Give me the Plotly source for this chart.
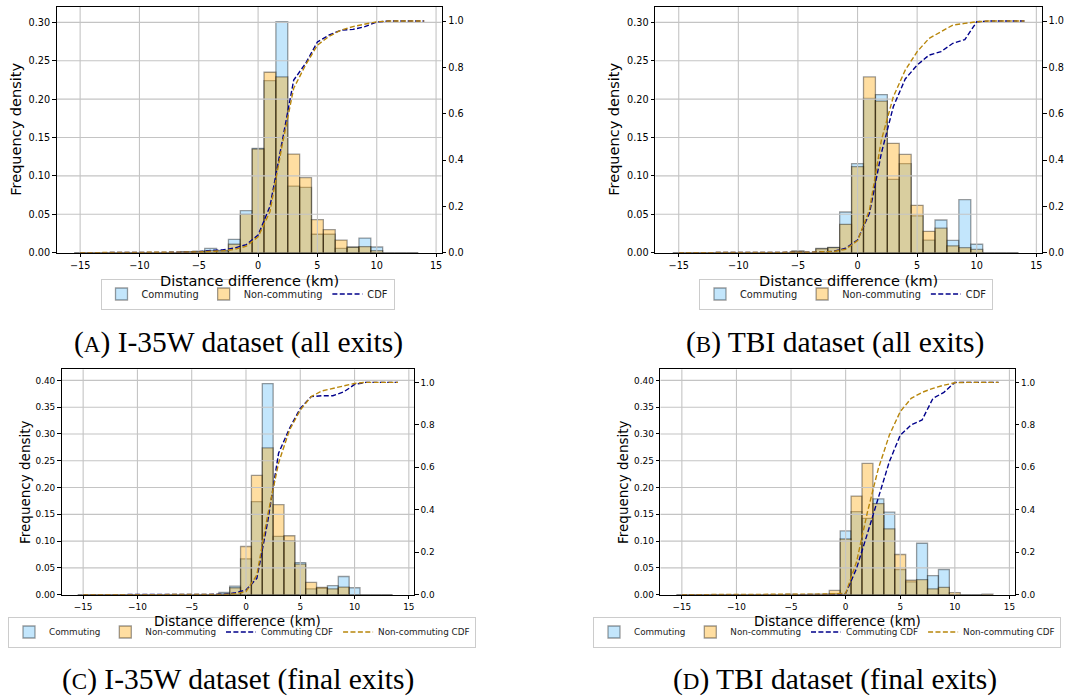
import plotly.graph_objects as go

# ---------------- data ----------------
bin_centers = list(range(-15, 14))        # histogram bins (1 km wide), -15 .. 13
cdf_x = list(range(-15, 15))              # CDF evaluation points, -15 .. 14

# Panel A: I-35W (all exits)
A_comm = [0, 0, 0, 0, 0, 0, 0, 0, 0, 0.001, 0.002, 0.0056, 0.003, 0.0174, 0.0547, 0.136, 0.224, 0.301,
          0.0868, 0.085, 0.024, 0.024, 0.0056, 0.0074, 0.019, 0.0074, 0, 0, 0]
A_non = [0, 0, 0, 0, 0, 0, 0, 0, 0, 0.001, 0.0015, 0.0026, 0.002, 0.011, 0.050, 0.135, 0.235, 0.229,
         0.1285, 0.0977, 0.043, 0.030, 0.0165, 0.007, 0.008, 0.0026, 0, 0, 0]
A_cdf_comm = [0, 0, 0, 0, 0, 0, 0, 0, 0, 0.002, 0.004, 0.01, 0.012, 0.02, 0.035, 0.076, 0.2, 0.47, 0.745,
              0.817, 0.91, 0.94, 0.961, 0.964, 0.976, 0.996, 1, 1, 1, 1]
A_cdf_non = [0, 0, 0, 0, 0, 0, 0, 0, 0.001, 0.002, 0.003, 0.006, 0.008, 0.014, 0.028, 0.069, 0.177, 0.457,
             0.71, 0.81, 0.896, 0.935, 0.961, 0.976, 0.987, 0.997, 1, 1, 1, 1]

# Panel B: TBI (all exits)
B_comm = [0, 0, 0, 0, 0, 0, 0, 0, 0, 0, 0.002, 0, 0.0056, 0.007, 0.053, 0.116, 0.201, 0.206,
          0.0955, 0.116, 0.048, 0.0165, 0.0426, 0.016, 0.069, 0.011, 0, 0, 0]
B_non = [0, 0, 0, 0, 0, 0, 0, 0, 0, 0, 0.002, 0, 0.005, 0.0065, 0.037, 0.112, 0.229, 0.1975,
         0.1424, 0.128, 0.0617, 0.0278, 0.032, 0.009, 0.0065, 0.0043, 0, 0, 0]
B_cdf_comm = [0, 0, 0, 0, 0, 0, 0, 0, 0, 0, 0.002, 0.002, 0.004, 0.006, 0.019, 0.055, 0.17, 0.43, 0.63,
              0.75, 0.81, 0.853, 0.868, 0.904, 0.92, 0.997, 1, 1, 1, 1]
B_cdf_non = [0, 0, 0, 0, 0, 0, 0, 0, 0, 0, 0.002, 0.002, 0.004, 0.005, 0.015, 0.052, 0.184, 0.486, 0.673,
             0.788, 0.868, 0.925, 0.954, 0.983, 0.99, 0.997, 1, 1, 1, 1]

# Panel C: I-35W (final exits)
C_comm = [0, 0, 0, 0, 0, 0, 0, 0, 0, 0, 0, 0, 0, 0.0044, 0.016, 0.067, 0.1736, 0.394,
          0.109, 0.101, 0.060, 0.011, 0.012, 0.0168, 0.034, 0.013, 0, 0, 0]
C_non = [0, 0, 0, 0, 0, 0, 0, 0, 0, 0, 0, 0, 0, 0.0015, 0.013, 0.090, 0.2227, 0.274,
         0.168, 0.110, 0.057, 0.023, 0.0137, 0.011, 0.0143, 0, 0, 0, 0]
C_cdf_comm = [0, 0, 0, 0, 0, 0, 0, 0, 0, 0, 0, 0, 0, 0.002, 0.009, 0.022, 0.077, 0.344, 0.666,
              0.783, 0.878, 0.933, 0.937, 0.937, 0.955, 0.99, 1, 1, 1, 1]
C_cdf_non = [0, 0, 0, 0, 0, 0, 0, 0, 0, 0, 0, 0, 0, 0.001, 0.005, 0.014, 0.093, 0.375, 0.62,
             0.775, 0.87, 0.933, 0.96, 0.972, 0.984, 0.995, 1, 1, 1, 1]

# Panel D: TBI (final exits)
D_comm = [0, 0, 0, 0, 0, 0, 0, 0, 0, 0, 0, 0, 0, 0, 0.002, 0.119, 0.155, 0.1425,
          0.179, 0.154, 0.047, 0.024, 0.096, 0.0355, 0.047, 0, 0, 0, 0]
D_non = [0, 0, 0, 0, 0, 0, 0, 0, 0, 0, 0.001, 0, 0.001, 0.001, 0.008, 0.104, 0.184, 0.245,
         0.170, 0.123, 0.075, 0.027, 0.028, 0.011, 0.0137, 0.004, 0, 0, 0.001]
D_cdf_comm = [0, 0, 0, 0, 0, 0, 0, 0, 0, 0, 0, 0, 0, 0, 0, 0.005, 0.124, 0.289, 0.454,
              0.626, 0.751, 0.8, 0.823, 0.925, 0.953, 1.0, 1, 1, 1, 1]
D_cdf_non = [0, 0, 0, 0, 0, 0, 0, 0, 0, 0, 0.001, 0.001, 0.002, 0.003, 0.004, 0.006, 0.155, 0.39, 0.595,
             0.751, 0.862, 0.925, 0.953, 0.972, 0.987, 0.998, 1, 1, 1, 1]

x_ticks = [-15, -10, -5, 0, 5, 10, 15]
x_ticktext = ["\u221215", "\u221210", "\u22125", "0", "5", "10", "15"]
y_ticks_top = [0, 0.05, 0.10, 0.15, 0.20, 0.25, 0.30]
y_ticks_bottom = [0, 0.05, 0.10, 0.15, 0.20, 0.25, 0.30, 0.35, 0.40]
y2_ticks = [0, 0.2, 0.4, 0.6, 0.8, 1.0]

captions = ["A", "B", "C", "D"]
caption_text = ["I-35W dataset (all exits)", "TBI dataset (all exits)",
                "I-35W dataset (final exits)", "TBI dataset (final exits)"]

# ---------------- layout helpers ----------------
W, H = 1065, 696
def px(x):
    return x / W
def py(y):
    return 1 - y / H

FONT = "DejaVu Sans"
SERIF = "Liberation Serif"
COMM_FILL = "rgba(135,206,250,0.5)"
NON_FILL = "rgba(255,165,0,0.37)"
EDGE = "rgba(0,0,0,0.38)"
BLUE = "#00008B"
GOLD = "#B8860B"
GRID = "#c4c4c4"
X_RANGE = [-16.975, 15.475]

panels = [
    dict(box=(56.7, 441.7, 6.7, 252.7), yr=[0, 0.3204], y2r=[0, 1.062], yt=y_ticks_top,
         comm=A_comm, non=A_non, cc=A_cdf_comm, cn=A_cdf_non, four=False,
         tick_fs=9.7, title_fs=14.5, leg_fs=9.8,
         ytitle_x=16, xtitle_y=281, leg_x=247.5, leg_anchor="center", leg_y=294,
         cap_x=238, cap_y=342),
    dict(box=(655.2, 1042.0, 6.7, 252.7), yr=[0, 0.3204], y2r=[0, 1.062], yt=y_ticks_top,
         comm=B_comm, non=B_non, cc=B_cdf_comm, cn=B_cdf_non, four=False,
         tick_fs=9.7, title_fs=14.5, leg_fs=9.8,
         ytitle_x=614, xtitle_y=281, leg_x=846, leg_anchor="center", leg_y=294,
         cap_x=835, cap_y=342),
    dict(box=(61.7, 414.0, 369.3, 594.7), yr=[0, 0.4207], y2r=[0, 1.0617], yt=y_ticks_bottom,
         comm=C_comm, non=C_non, cc=C_cdf_comm, cn=C_cdf_non, four=True,
         tick_fs=8.9, title_fs=13.5, leg_fs=8.8,
         ytitle_x=25, xtitle_y=621, leg_x=8, leg_anchor="left", leg_y=632,
         cap_x=238, cap_y=679),
    dict(box=(660.3, 1014.6, 369.3, 594.7), yr=[0, 0.4207], y2r=[0, 1.0617], yt=y_ticks_bottom,
         comm=D_comm, non=D_non, cc=D_cdf_comm, cn=D_cdf_non, four=True,
         tick_fs=8.9, title_fs=13.5, leg_fs=8.8,
         ytitle_x=623, xtitle_y=621, leg_x=1061, leg_anchor="right", leg_y=632,
         cap_x=835, cap_y=679),
]

fig = go.Figure()
layout = dict(width=W, height=H, margin=dict(l=0, r=0, t=0, b=0, autoexpand=False),
              paper_bgcolor="white", plot_bgcolor="white",
              font=dict(family=FONT, size=10, color="black"),
              barmode="overlay", annotations=[])

for i, p in enumerate(panels, start=1):
    xs = "" if i == 1 else str(i)
    xref = "x" + xs
    y1n, y2n = 2 * i - 1, 2 * i
    yref1 = "y" + ("" if y1n == 1 else str(y1n))
    yref2 = "y" + str(y2n)
    leg = "legend" + ("" if i == 1 else str(i))
    l, r, t, b = p["box"]
    tfont = dict(family=FONT, size=p["tick_fs"], color="black")

    # bars
    fig.add_trace(go.Bar(x=bin_centers, y=p["comm"], width=1, name="Commuting",
                         marker=dict(color=COMM_FILL, line=dict(color=EDGE, width=1.3)),
                         xaxis=xref, yaxis=yref1, legend=leg, hoverinfo="skip"))
    fig.add_trace(go.Bar(x=bin_centers, y=p["non"], width=1, name="Non-commuting",
                         marker=dict(color=NON_FILL, line=dict(color=EDGE, width=1.3)),
                         xaxis=xref, yaxis=yref1, legend=leg, hoverinfo="skip"))
    # grid drawn above bars (matplotlib default)
    gx, gy = [], []
    for tv in x_ticks:
        gx += [tv, tv, None]
        gy += [p["yr"][0], p["yr"][1], None]
    for tv in p["yt"][1:]:
        gx += [X_RANGE[0], X_RANGE[1], None]
        gy += [tv, tv, None]
    fig.add_trace(go.Scatter(x=gx, y=gy, mode="lines", line=dict(color=GRID, width=1.1),
                             xaxis=xref, yaxis=yref1, showlegend=False, hoverinfo="skip"))
    # CDFs
    fig.add_trace(go.Scatter(x=cdf_x, y=p["cc"], mode="lines",
                             name="Commuting CDF" if p["four"] else "CDF",
                             line=dict(color=BLUE, width=1.4, dash="5px,2.4px"),
                             xaxis=xref, yaxis=yref2, legend=leg, hoverinfo="skip"))
    fig.add_trace(go.Scatter(x=cdf_x, y=p["cn"], mode="lines", name="Non-commuting CDF",
                             showlegend=p["four"],
                             line=dict(color=GOLD, width=1.4, dash="5px,2.4px"),
                             xaxis=xref, yaxis=yref2, legend=leg, hoverinfo="skip"))

    layout["xaxis" + xs] = dict(domain=[px(l), px(r)], anchor=yref1, range=X_RANGE,
                                tickvals=x_ticks, ticktext=x_ticktext, ticks="outside",
                                ticklen=3.5, tickwidth=1, tickcolor="black",
                                showline=True, linecolor="black", linewidth=1.3, mirror=True,
                                showgrid=False, zeroline=False, fixedrange=True,
                                automargin=False, tickfont=tfont)
    layout["yaxis" + ("" if y1n == 1 else str(y1n))] = dict(
        domain=[py(b), py(t)], anchor=xref, range=p["yr"],
        tickvals=p["yt"], ticktext=["%.2f" % v for v in p["yt"]],
        ticks="outside", ticklen=3.5, tickwidth=1, tickcolor="black",
        showline=True, linecolor="black", linewidth=1.3, mirror=False,
        showgrid=False, zeroline=False, fixedrange=True, automargin=False, tickfont=tfont)
    layout["yaxis" + str(y2n)] = dict(
        overlaying=yref1, side="right", anchor=xref, range=p["y2r"],
        tickvals=y2_ticks, ticktext=["%.1f" % v for v in y2_ticks],
        ticks="outside", ticklen=3.5, tickwidth=1, tickcolor="black",
        showline=True, linecolor="black", linewidth=1.3,
        showgrid=False, zeroline=False, fixedrange=True, automargin=False, tickfont=tfont)

    layout[leg] = dict(orientation="h", x=px(p["leg_x"]), y=py(p["leg_y"]),
                       xanchor=p["leg_anchor"], yanchor="middle", xref="paper", yref="paper",
                       bgcolor="white", bordercolor="#cccccc", borderwidth=1,
                       font=dict(family=FONT, size=p["leg_fs"], color="#222222"),
                       itemwidth=30, tracegroupgap=0)

    layout["annotations"].append(dict(text="Frequency density", textangle=-90,
                                      x=px(p["ytitle_x"]), y=py((t + b) / 2), xref="paper", yref="paper",
                                      xanchor="center", yanchor="middle", showarrow=False,
                                      font=dict(family=FONT, size=p["title_fs"], color="black")))
    layout["annotations"].append(dict(text="Distance difference (km)",
                                      x=px((l + r) / 2), y=py(p["xtitle_y"]), xref="paper", yref="paper",
                                      xanchor="center", yanchor="middle", showarrow=False,
                                      font=dict(family=FONT, size=p["title_fs"], color="black")))
    cap = "(<span style='font-size:23px'>%s</span>) %s" % (captions[i - 1], caption_text[i - 1])
    layout["annotations"].append(dict(text=cap, x=px(p["cap_x"]), y=py(p["cap_y"]),
                                      xref="paper", yref="paper", xanchor="center", yanchor="middle",
                                      showarrow=False,
                                      font=dict(family=SERIF, size=29.5, color="black")))

fig.update_layout(**layout)
fig.write_html("out.html")
